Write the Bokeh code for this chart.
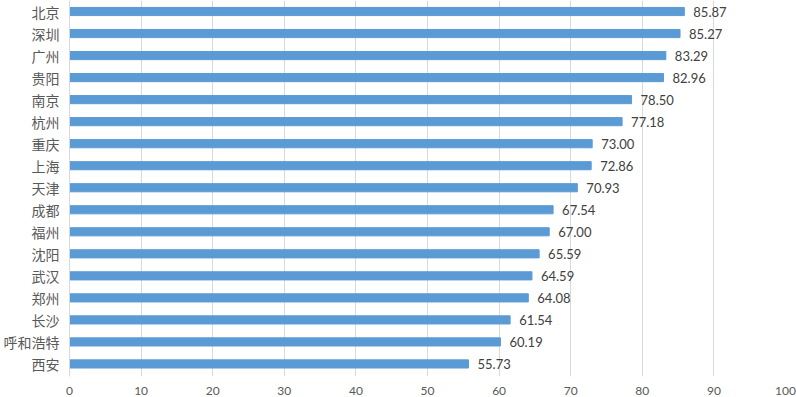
from bokeh.plotting import figure
from bokeh.models import Range1d, FixedTicker, ColumnDataSource
from bokeh.core.properties import value
from bokeh.embed import file_html
from bokeh.resources import INLINE

cities = ["北京", "深圳", "广州", "贵阳", "南京", "杭州", "重庆", "上海", "天津",
          "成都", "福州", "沈阳", "武汉", "郑州", "长沙", "呼和浩特", "西安"]
scores = [85.87, 85.27, 83.29, 82.96, 78.50, 77.18, 73.00, 72.86, 70.93,
          67.54, 67.00, 65.59, 64.59, 64.08, 61.54, 60.19, 55.73]
x_ticks = [0, 10, 20, 30, 40, 50, 60, 70, 80, 90, 100]

n = len(cities)
ypos = [n - 1 - i for i in range(n)]
labels = ["%.2f" % v for v in scores]
src = ColumnDataSource(dict(y=ypos, x=scores, lab=labels))

p = figure(width=796, height=397, output_backend="svg", toolbar_location=None,
           x_range=Range1d(0, 100), y_range=Range1d(-0.57, 16.5),
           min_border_left=0, min_border_top=0, min_border_right=11, min_border_bottom=0)
p.outline_line_color = None
p.background_fill_color = "white"
p.border_fill_color = "white"

p.hbar(y="y", right="x", left=0, height=0.37, color="#5b9bd5", source=src)
p.text(x="x", y="y", text="lab", source=src, x_offset=9,
       text_font=value("Lato"), text_font_size="13px", text_color="#404040",
       text_baseline="middle", text_align="left")

p.xaxis.ticker = FixedTicker(ticks=x_ticks)
p.xaxis.axis_line_color = None
p.xaxis.major_tick_line_color = None
p.xaxis.minor_tick_line_color = None
p.xaxis.major_tick_out = 0
p.xaxis.major_label_standoff = 10
p.xaxis.major_label_text_font = "Lato"
p.xaxis.major_label_text_font_size = "12px"
p.xaxis.major_label_text_color = "#595959"

p.yaxis.ticker = FixedTicker(ticks=ypos)
p.yaxis.major_label_overrides = {y: c for y, c in zip(ypos, cities)}
p.yaxis.axis_line_color = "#d9d9d9"
p.yaxis.major_tick_line_color = None
p.yaxis.minor_tick_line_color = None
p.yaxis.major_tick_out = 0
p.yaxis.major_label_standoff = 10
p.yaxis.major_label_text_font = "Noto Sans CJK SC"
p.yaxis.major_label_text_font_size = "14px"
p.yaxis.major_label_text_color = "#595959"

p.xgrid.grid_line_color = "#d9d9d9"
p.ygrid.grid_line_color = None

open("out.html", "w").write(file_html(p, INLINE))
